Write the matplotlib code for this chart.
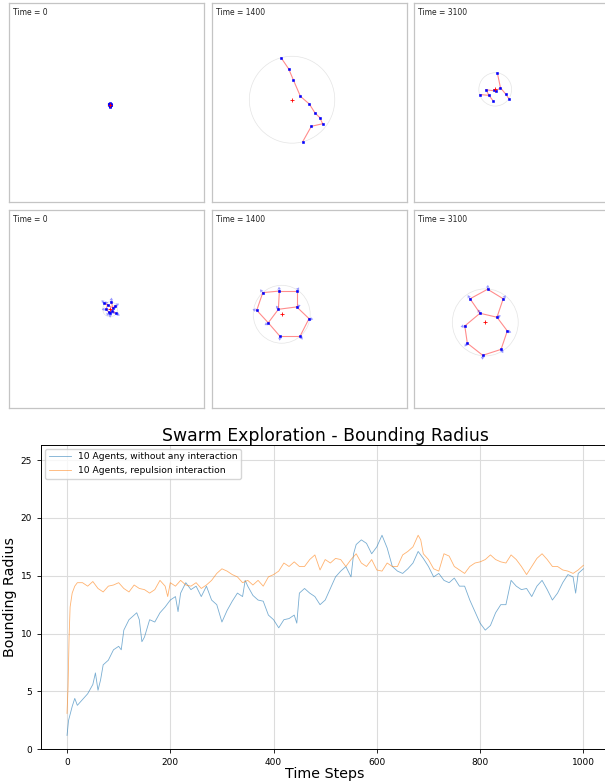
import matplotlib
matplotlib.use('Agg')
import matplotlib.pyplot as plt
from matplotlib.patches import Circle
import numpy as np

# ---- swarm snapshots (agent positions, bounding circle, neighbour links) ----
times = [0, 1400, 3100]

# no interaction
p1_x = [0.9, 1.2, 1.6, 2.0, 1.4, 1.8, 2.2, 1.1, 1.5, 1.9]
p1_y = [-0.6, -1.0, -0.3, -0.8, -1.6, -1.9, -1.4, -1.3, -2.2, -1.1]
p1_c = (1.8, -1.2)
p1_r = 1.3
p1_links = [(0, 1), (1, 7), (3, 9), (9, 6)]

p2_x = [-14.3, -10.5, -8.1, -4.5, 0.1, 3.0, 5.4, 6.9, 1.1, -3.3]
p2_y = [22.4, 16.9, 11.3, 3.1, -0.8, -5.3, -7.6, -10.7, -12.0, -19.7]
p2_c = (-8.8, 1.4)
p2_r = 21.9
p2_links = [(0, 1), (1, 2), (2, 3), (3, 4), (4, 5), (5, 6), (6, 7), (7, 8), (8, 9)]

p3_x = [-7.1, -5.5, -7.9, -12.9, -11.4, -16.0, -9.1, -2.7, -1.1, -8.8]
p3_y = [14.9, 7.4, 5.8, 6.4, 3.6, 4.0, 0.6, 4.1, 1.8, 6.3]
p3_c = (-8.2, 6.6)
p3_r = 8.4
p3_links = [(0, 1), (1, 2), (2, 3), (3, 4), (4, 5), (4, 6), (1, 7), (7, 8)]

# repulsion interaction
p4_x = [-1.2, 2.2, 4.4, -0.4, 2.7, 1.7, 4.8, 1.0, 3.2, 0.4]
p4_y = [2.8, 3.5, 1.5, -0.2, -1.1, -2.2, -2.2, -1.6, 0.5, 2.0]
p4_c = (1.7, -0.2)
p4_r = 3.8
p4_links = [(0, 9), (9, 3), (3, 7), (7, 5), (1, 8), (8, 2), (8, 4), (4, 6), (9, 8)]

p5_x = [-23.8, -15.3, -6.4, -26.9, -15.8, -6.4, -0.1, -21.0, -15.0, -4.7]
p5_y = [8.2, 9.0, 9.0, -0.7, -0.2, 1.0, -4.9, -7.0, -13.8, -13.8]
p5_c = (-14.1, -2.7)
p5_r = 14.6
p5_links = [(0, 1), (1, 2), (2, 5), (1, 4), (4, 5), (0, 3), (3, 7), (7, 4),
            (5, 6), (6, 9), (9, 8), (8, 7)]

p6_x = [-12.1, -21.1, -4.1, -16.0, -7.3, -23.8, -2.0, -22.5, -5.2, -14.6]
p6_y = [9.9, 5.1, 5.1, -2.2, -4.2, -8.6, -11.1, -17.3, -20.4, -23.4]
p6_c = (-13.3, -6.8)
p6_r = 16.9
p6_links = [(0, 1), (0, 2), (1, 3), (2, 4), (3, 4), (3, 5), (5, 7), (7, 9),
            (9, 8), (8, 6), (6, 4)]

# ---- bounding radius over time ----
blue_t = [0, 3, 10, 15, 20, 30, 40, 50, 55, 60, 65, 70, 80, 90, 100, 105, 110,
          120, 130, 135, 140, 145, 150, 160, 170, 180, 190, 200, 210, 215, 220,
          230, 240, 250, 260, 270, 280, 290, 300, 310, 320, 330, 340, 345, 350,
          360, 370, 380, 390, 400, 410, 420, 430, 440, 445, 450, 460, 470, 480,
          490, 500, 510, 520, 530, 540, 550, 555, 560, 570, 580, 590, 600, 610,
          620, 630, 640, 650, 660, 670, 680, 690, 700, 710, 720, 730, 740, 750,
          760, 770, 780, 790, 800, 810, 820, 830, 840, 850, 860, 870, 880, 890,
          900, 910, 920, 930, 940, 950, 960, 970, 980, 985, 990, 1000]
blue_r = [1.2, 2.5, 3.7, 4.4, 3.8, 4.3, 4.8, 5.6, 6.6, 5.1, 6.0, 7.3, 7.7, 8.6,
          8.9, 8.6, 10.3, 11.2, 11.6, 11.8, 11.2, 9.3, 9.7, 11.2, 11.0, 11.8,
          12.3, 12.9, 13.2, 11.9, 13.5, 14.4, 13.8, 14.1, 13.2, 14.1, 12.9, 12.5,
          11.0, 12.0, 12.8, 13.5, 13.2, 14.6, 14.1, 13.3, 12.9, 12.8, 11.6, 11.2,
          10.5, 11.2, 11.3, 11.6, 10.9, 13.5, 13.9, 13.5, 13.2, 12.5, 12.9, 13.9,
          14.9, 15.4, 15.8, 14.9, 16.9, 17.7, 18.1, 17.8, 16.9, 17.5, 18.5, 17.4,
          15.8, 15.4, 15.2, 15.6, 16.1, 17.1, 16.5, 15.8, 14.9, 15.2, 14.6, 14.4,
          14.8, 14.1, 14.1, 12.9, 11.9, 10.9, 10.3, 10.7, 11.8, 12.5, 12.5, 14.6,
          14.1, 13.8, 13.9, 13.2, 14.1, 14.6, 13.8, 12.9, 13.5, 14.4, 15.1, 14.9,
          13.5, 15.2, 15.6]

orange_t = [0, 2, 4, 6, 10, 15, 20, 30, 40, 50, 60, 70, 80, 90, 100, 110, 120,
            130, 140, 150, 160, 170, 180, 190, 195, 200, 210, 220, 230, 240, 250,
            260, 270, 280, 290, 300, 310, 320, 330, 340, 350, 360, 370, 380, 390,
            400, 410, 420, 430, 440, 450, 460, 470, 480, 490, 500, 510, 520, 530,
            540, 550, 560, 570, 580, 590, 600, 610, 620, 630, 640, 650, 660, 670,
            680, 685, 690, 700, 710, 720, 730, 740, 750, 760, 770, 780, 790, 800,
            810, 820, 830, 840, 850, 860, 870, 880, 890, 900, 910, 920, 930, 940,
            950, 960, 970, 980, 990, 1000]
orange_r = [3.1, 5.4, 9.7, 12.3, 13.5, 14.1, 14.4, 14.4, 14.1, 14.5, 13.9, 13.6,
            14.1, 14.2, 14.4, 13.9, 13.6, 14.2, 13.9, 13.8, 13.5, 13.8, 14.6,
            14.1, 13.2, 14.4, 14.1, 14.6, 14.2, 14.1, 14.4, 13.9, 14.2, 14.6,
            15.2, 15.6, 15.4, 15.1, 14.9, 14.4, 14.6, 14.2, 14.6, 14.1, 14.9,
            15.1, 15.4, 16.1, 15.8, 16.2, 15.8, 15.8, 16.4, 16.8, 15.5, 16.4,
            16.1, 16.5, 16.4, 15.8, 16.4, 16.9, 16.1, 15.8, 16.4, 15.5, 15.4,
            16.1, 15.8, 15.8, 16.8, 17.1, 17.5, 18.5, 18.1, 16.9, 16.4, 15.6,
            15.4, 16.9, 16.7, 15.8, 15.5, 15.2, 15.8, 16.1, 16.2, 16.4, 16.8,
            16.4, 16.2, 16.1, 16.8, 16.4, 15.8, 15.1, 15.8, 16.5, 16.9, 16.4,
            15.8, 15.8, 15.5, 15.4, 15.2, 15.5, 15.9]


def draw_panel(ax, xs, ys, c, r, links, t, arrows=False):
    xs = np.array(xs)
    ys = np.array(ys)
    ax.add_patch(Circle(c, r, fill=False, edgecolor='#e4e4e4', linewidth=0.5))
    for i, j in links:
        ax.plot([xs[i], xs[j]], [ys[i], ys[j]], color='red', alpha=0.45, linewidth=0.8)
    if arrows:
        # little heading arrows pointing away from the swarm centre
        dx = xs - c[0]
        dy = ys - c[1]
        n = np.hypot(dx, dy) + 1e-9
        ax.quiver(xs, ys, 2.2 * dx / n, 2.2 * dy / n, angles='xy', scale_units='xy',
                  scale=1, color='blue', alpha=0.4, width=0.005,
                  headwidth=4, headlength=3, headaxislength=2.5)
    ax.plot(xs, ys, 's', color='blue', markersize=1.9, markeredgewidth=0.4)
    ax.plot(c[0], c[1], '+', color='red', markersize=3, markeredgewidth=0.6)
    ax.set_xlim(-50, 50)
    ax.set_ylim(-50, 50)
    ax.set_xticks([])
    ax.set_yticks([])
    for s in ax.spines.values():
        s.set_color('#c4c4c4')
        s.set_linewidth(0.9)
    ax.text(0.02, 0.975, f"Time = {t}", transform=ax.transAxes, fontsize=5.5,
            va='top', ha='left', color='#222222')


fig = plt.figure(figsize=(6.05, 7.81), dpi=100)

W, H = 6.05 * 100, 7.81 * 100
col_left = [9.3, 211.7, 413.7]
row_top = [3.3, 209.7]
pw, ph = 195.0, 198.4

panels = [
    [(p1_x, p1_y, p1_c, p1_r, p1_links), (p2_x, p2_y, p2_c, p2_r, p2_links),
     (p3_x, p3_y, p3_c, p3_r, p3_links)],
    [(p4_x, p4_y, p4_c, p4_r, p4_links), (p5_x, p5_y, p5_c, p5_r, p5_links),
     (p6_x, p6_y, p6_c, p6_r, p6_links)],
]

for ri, row in enumerate(panels):
    for ci, (xs, ys, c, r, links) in enumerate(row):
        ax = fig.add_axes([col_left[ci] / W, 1 - (row_top[ri] + ph) / H, pw / W, ph / H])
        draw_panel(ax, xs, ys, c, r, links, times[ci], arrows=(ri == 1))

# bottom line chart
ax = fig.add_axes([41.2 / W, 1 - 749.3 / H, 568.0 / W, 304.3 / H])
ax.plot(blue_t, blue_r, color='tab:blue', linewidth=0.6, alpha=0.6,
        label='10 Agents, without any interaction')
ax.plot(orange_t, orange_r, color='tab:orange', linewidth=0.6, alpha=0.6,
        label='10 Agents, repulsion interaction')
ax.set_xlim(-50, 1050)
ax.set_ylim(0, 26.3)
ax.set_xticks([0, 200, 400, 600, 800, 1000])
ax.set_yticks([0, 5, 10, 15, 20, 25])
ax.tick_params(labelsize=6.5, length=3, width=0.6)
ax.grid(True, color='#dcdcdc', linewidth=0.8)
ax.set_axisbelow(True)
for s in ax.spines.values():
    s.set_linewidth(0.7)
ax.set_title('Swarm Exploration - Bounding Radius', fontsize=12.4, pad=3)
ax.set_xlabel('Time Steps', fontsize=10.3, labelpad=0)
ax.set_ylabel('Bounding Radius', fontsize=10.3, labelpad=3)
ax.legend(loc='upper left', fontsize=6.6, framealpha=0.8, borderaxespad=0.4,
          handlelength=2.4)

plt.savefig('out.png', dpi=100)
